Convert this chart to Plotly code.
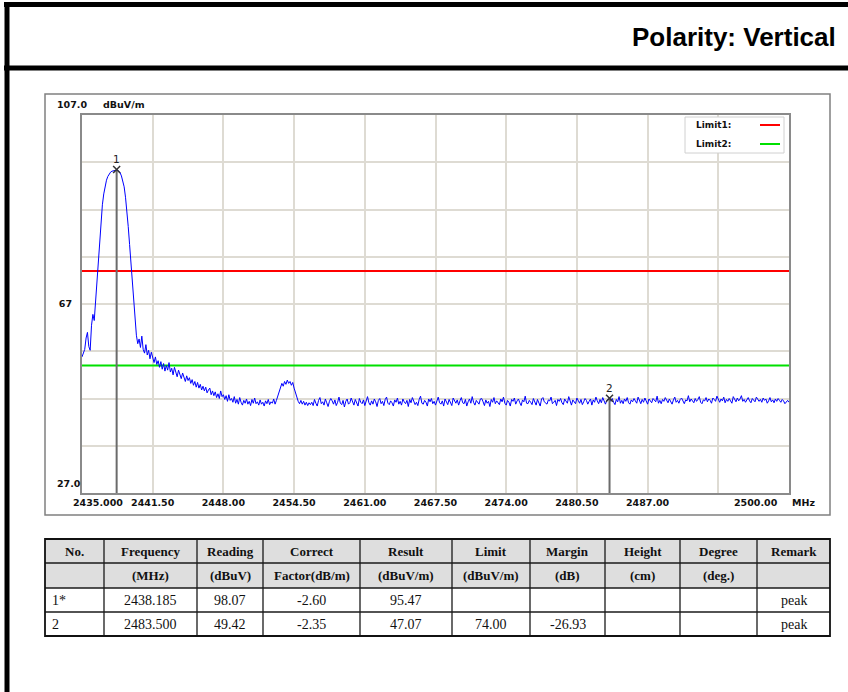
import numpy as np
import plotly.graph_objects as go

W, H = 848, 692

# ---------------- data ----------------
f_start, f_stop = 2435.0, 2500.0
# trace level (dBuV/m), one value every 0.125 MHz from 2435 to 2500 MHz
levels = [
    # 2435.000 - 2442.000 (carrier)
    55.8, 56.6, 57.4, 59.8, 61.0, 58.0, 57.2, 62.5, 64.8, 63.5,
    67.5, 72.0, 77.0, 81.5, 85.0, 88.0, 90.3, 92.0, 93.2, 94.0,
    94.6, 94.9, 95.1, 95.2, 95.3, 95.4, 95.4, 95.1, 94.8, 94.1,
    93.2, 91.8, 89.6, 86.8, 83.4, 79.6, 75.6, 71.6, 67.8, 63.8,
    60.4, 58.6, 59.6, 57.8, 60.2, 57.4, 56.6, 58.4, 56.2, 57.2,
    55.4, 56.8, 55.6, 54.6, 55.8, 54.2, 55.0,
    # 2442.125 - 2456.000
    53.6, 54.8, 53.2, 54.4, 52.8, 54.0, 53.0, 54.6,
    52.6, 53.4, 52.0, 53.6, 52.4, 51.6, 53.0, 52.2,
    51.2, 52.4, 51.6, 50.6, 51.8, 50.8, 51.4, 50.2,
    51.0, 49.8, 50.6, 49.4, 50.4, 49.2, 50.0, 48.8,
    49.6, 48.6, 49.4, 48.2, 48.8, 49.2, 47.8, 48.6,
    47.6, 48.4, 47.2, 48.0, 47.0, 48.6, 47.4, 47.8,
    46.8, 47.6, 46.4, 47.8, 46.6, 47.0, 46.2, 47.4,
    46.0, 46.8, 45.8, 47.2, 46.2, 45.6, 46.6, 46.0,
    46.9, 45.8, 46.4, 45.5, 46.8, 46.0, 47.1, 45.9,
    46.3, 45.6, 46.7, 45.8, 46.2, 45.4, 46.5, 45.9,
    46.8, 45.7, 46.3, 46.0, 46.9, 45.8, 46.6, 47.4,
    48.4, 49.4, 50.2, 49.6, 50.6, 50.0, 50.9, 50.2,
    50.6, 49.8, 50.4, 49.2, 48.2, 47.0, 46.4, 45.9,
    46.6, 45.8, 46.4, 45.6, 46.2, 45.5, 46.1, 45.7,
    # 2456.125 - 2500.000 (noise floor)
    46.2, 45.5, 46.8, 46.0, 45.4, 46.6, 47.2, 45.9, 46.3, 45.6,
    46.9, 46.1, 45.3, 46.4, 47.0, 46.5, 45.8, 46.7, 45.5, 46.2,
    47.3, 46.0, 45.7, 46.6, 45.2, 46.4, 46.9, 45.8, 46.1, 47.1,
    46.3, 45.6, 46.8, 46.0, 45.4, 47.0, 46.2, 45.9, 46.7, 45.5,
    46.4, 47.4, 46.1, 45.6, 46.5, 45.8, 46.9, 46.3, 45.3, 46.6,
    47.0, 45.9, 46.4, 45.5, 46.8, 47.3, 46.0, 45.7, 46.5, 46.1,
    45.4, 46.7, 46.2, 47.1, 45.8, 46.4, 45.6, 46.9, 46.3, 45.9,
    46.6, 45.3, 46.8, 46.1, 47.2, 46.5, 45.7, 46.2, 45.5, 46.8,
    47.5, 46.0, 45.8, 46.6, 46.2, 45.4, 46.9, 46.3, 47.0, 45.9,
    46.4, 45.6, 46.7, 47.3, 46.1, 45.8, 46.5, 45.4, 46.9, 46.2,
    45.7, 46.8, 46.3, 45.5, 47.1, 46.4, 46.0, 46.7, 45.6, 46.5,
    47.2, 46.1, 45.9, 46.8, 45.4, 46.3, 46.9, 46.0, 47.4, 46.2,
    45.6, 46.6, 46.1, 45.8, 46.9, 47.0, 46.3, 45.5, 46.7, 46.0,
    46.4, 45.3, 46.8, 46.2, 47.2, 45.9, 46.5, 46.1, 45.7, 46.9,
    46.3, 47.3, 46.0, 45.6, 46.6, 46.2, 45.4, 46.8, 46.4, 47.1,
    45.8, 46.5, 46.9, 46.1, 45.5, 46.7, 46.3, 47.5, 46.0, 45.9,
    46.6, 46.2, 45.7, 47.0, 46.4, 45.6, 46.8, 46.1, 45.4, 46.9,
    47.2, 46.3, 46.0, 45.8, 46.7, 46.5, 47.3, 45.9, 46.2, 46.6,
    45.5, 46.8, 46.4, 47.0, 46.1, 45.7, 46.9, 46.3, 46.0, 47.4,
    46.2, 45.6, 46.7, 46.4, 45.9, 47.1, 46.5, 46.0, 46.8, 45.7,
    46.3, 47.0, 46.6, 45.8, 46.4, 46.9, 45.6, 46.7, 46.2, 47.3,
    46.5, 45.9, 46.8, 46.1, 47.2, 46.4, 45.8, 46.6, 46.9, 47.1,
    46.4, 47.0, 46.2, 45.7, 46.8, 46.3, 47.4, 46.0, 46.6, 45.9,
    46.9, 46.4, 47.2, 46.1, 45.8, 46.7, 46.3, 47.0, 46.5, 46.0,
    47.3, 46.6, 45.9, 46.8, 46.2, 47.1, 46.4, 45.8, 46.9, 46.5,
    46.1, 47.0, 46.7, 46.3, 47.5, 46.0, 46.6, 45.9, 46.8, 46.4,
    47.2, 46.5, 46.1, 46.9, 46.3, 45.8, 46.7, 47.3, 46.2, 46.6,
    46.0, 46.8, 47.1, 46.4, 45.9, 46.7, 46.5, 47.6, 46.3, 46.9,
    46.6, 46.1, 47.0, 46.4, 46.8, 47.4, 46.2, 45.9, 46.7, 46.5,
    47.2, 46.3, 46.9, 46.6, 46.0, 47.1, 46.8, 46.4, 47.5, 46.7,
    46.2, 46.9, 46.5, 47.3, 46.1, 46.8, 46.4, 47.0, 46.6, 46.0,
    47.4, 46.7, 46.3, 47.1, 46.5, 46.9, 47.6, 46.4, 46.8, 46.2,
    46.9, 47.2, 46.5, 46.1, 47.0, 46.6, 46.3, 47.3, 46.7, 46.4,
    46.8, 46.2, 47.1, 46.6, 46.9, 46.0, 46.5, 47.2, 46.3, 46.7,
    46.1, 46.9, 46.4, 47.0, 46.6, 46.2, 46.8, 46.5, 45.9, 46.3,
    46.6, 46.2,
]
freqs = np.linspace(f_start, f_stop, len(levels))

y_min, y_max = 27.0, 107.0
limit1 = 74.0
limit2 = 54.0

marker_no = ["1", "2"]
marker_freq = [2438.185, 2483.500]
marker_level = [95.47, 47.07]

x_ticks = [2441.50, 2448.00, 2454.50, 2461.00, 2467.50, 2474.00, 2480.50, 2487.00, 2493.50]
x_labels = ["2441.50", "2448.00", "2454.50", "2461.00", "2467.50", "2474.00", "2480.50", "2487.00", ""]
y_ticks = [37, 47, 57, 67, 77, 87, 97]
y_labels = ["", "", "", "67", "", "", ""]

table_head1 = ["No.", "Frequency", "Reading", "Correct", "Result", "Limit", "Margin", "Height", "Degree", "Remark"]
table_head2 = ["", "(MHz)", "(dBuV)", "Factor(dB/m)", "(dBuV/m)", "(dBuV/m)", "(dB)", "(cm)", "(deg.)", ""]
table_row1 = ["1*", "2438.185", "98.07", "-2.60", "95.47", "", "", "", "", "peak"]
table_row2 = ["2", "2483.500", "49.42", "-2.35", "47.07", "74.00", "-26.93", "", "", "peak"]

# ---------------- helpers ----------------
def px(x):
    return x / W

def py(y):
    return 1 - y / H

PL, PR, PT, PB = 82, 789, 115, 493
SANS = "DejaVu Sans"
SERIF = "Liberation Serif"

fig = go.Figure()

# limit lines
fig.add_trace(go.Scatter(x=[f_start, f_stop], y=[limit1, limit1], mode="lines",
                         line=dict(color="#ff0000", width=2), hoverinfo="skip"))
fig.add_trace(go.Scatter(x=[f_start, f_stop], y=[limit2, limit2], mode="lines",
                         line=dict(color="#00e000", width=2), hoverinfo="skip"))
# spectrum
fig.add_trace(go.Scatter(x=freqs, y=levels, mode="lines",
                         line=dict(color="#0000ff", width=1)))
# marker lines
for f, lv in zip(marker_freq, marker_level):
    fig.add_trace(go.Scatter(x=[f, f], y=[lv, y_min], mode="lines",
                             line=dict(color="#6b6b6b", width=2), hoverinfo="skip"))
# marker symbols
fig.add_trace(go.Scatter(x=marker_freq, y=marker_level, mode="markers",
                         marker=dict(symbol="x-thin", size=7,
                                     line=dict(width=1.5, color="#333333"))))

shapes = []
annotations = []

# page borders
shapes.append(dict(type="line", xref="paper", yref="paper", x0=px(4), x1=px(848),
                   y0=py(4.5), y1=py(4.5), line=dict(color="black", width=5)))
shapes.append(dict(type="line", xref="paper", yref="paper", x0=px(4), x1=px(848),
                   y0=py(68), y1=py(68), line=dict(color="black", width=5)))
shapes.append(dict(type="line", xref="paper", yref="paper", x0=px(7), x1=px(7),
                   y0=py(2), y1=py(692), line=dict(color="black", width=5)))

annotations.append(dict(text="<b>Polarity: Vertical</b>", xref="paper", yref="paper",
                        x=px(838), y=py(37), xanchor="right", yanchor="middle",
                        showarrow=False, font=dict(family="Liberation Sans", size=26, color="black")))

# chart outer box
shapes.append(dict(type="rect", xref="paper", yref="paper", x0=px(45), x1=px(830),
                   y0=py(515), y1=py(94), line=dict(color="#808080", width=1.5)))

# axis-side labels
lab_font = dict(family=SANS, size=9.5, color="#111111")
annotations.append(dict(text="<b>107.0</b>", xref="paper", yref="paper", x=px(55), y=py(104),
                        xanchor="left", yanchor="middle", showarrow=False, font=lab_font))
annotations.append(dict(text="<b>dBuV/m</b>", xref="paper", yref="paper", x=px(101), y=py(104),
                        xanchor="left", yanchor="middle", showarrow=False, font=lab_font))
annotations.append(dict(text="<b>27.0</b>", xref="paper", yref="paper", x=px(55), y=py(483),
                        xanchor="left", yanchor="middle", showarrow=False, font=lab_font))
annotations.append(dict(text="<b>2435.000</b>", xref="x", yref="paper", x=f_start, y=py(502),
                        xanchor="left", yanchor="middle", xshift=-11, showarrow=False, font=lab_font))
annotations.append(dict(text="<b>2500.00</b>", xref="x", yref="paper", x=f_stop, y=py(502),
                        xanchor="right", yanchor="middle", xshift=-9, showarrow=False, font=lab_font))
annotations.append(dict(text="<b>MHz</b>", xref="x", yref="paper", x=f_stop, y=py(502),
                        xanchor="left", yanchor="middle", xshift=1, showarrow=False, font=lab_font))

# marker labels
for n, f, lv in zip(marker_no, marker_freq, marker_level):
    annotations.append(dict(text=n, xref="x", yref="y", x=f, y=lv, yshift=10,
                            xanchor="center", yanchor="middle", showarrow=False,
                            font=dict(family=SANS, size=10.5, color="#222222")))

# legend
shapes.append(dict(type="rect", xref="paper", yref="paper", x0=px(685), x1=px(784),
                   y0=py(153), y1=py(117), line=dict(color="#d0d0d0", width=1),
                   fillcolor="white"))
for name, col, yy in [("Limit1:", "#ff0000", 125), ("Limit2:", "#00e000", 144)]:
    annotations.append(dict(text="<b>" + name + "</b>", xref="paper", yref="paper",
                            x=px(694), y=py(yy), xanchor="left", yanchor="middle",
                            showarrow=False, font=dict(family=SANS, size=9, color="#111111")))
    shapes.append(dict(type="line", xref="paper", yref="paper", x0=px(760), x1=px(780),
                       y0=py(yy), y1=py(yy), line=dict(color=col, width=2)))

# table
cols = [45, 104, 197, 263, 360, 452, 530, 605, 680, 757, 830]
rows = [539, 563, 588, 612, 636]
shapes.append(dict(type="rect", xref="paper", yref="paper", x0=px(cols[0]), x1=px(cols[-1]),
                   y0=py(rows[2]), y1=py(rows[0]), line=dict(width=0), fillcolor="#dedede",
                   layer="below"))
for r in rows[1:-1]:
    shapes.append(dict(type="line", xref="paper", yref="paper", x0=px(cols[0]), x1=px(cols[-1]),
                       y0=py(r), y1=py(r), line=dict(color="#1a1a1a", width=1.3)))
for c in cols[1:-1]:
    shapes.append(dict(type="line", xref="paper", yref="paper", x0=px(c), x1=px(c),
                       y0=py(rows[0]), y1=py(rows[-1]), line=dict(color="#1a1a1a", width=1.3)))
shapes.append(dict(type="rect", xref="paper", yref="paper", x0=px(cols[0]), x1=px(cols[-1]),
                   y0=py(rows[-1]), y1=py(rows[0]), line=dict(color="#111111", width=1.8)))

for ri, (row, bold) in enumerate([(table_head1, True), (table_head2, True),
                                  (table_row1, False), (table_row2, False)]):
    yc = (rows[ri] + rows[ri + 1]) / 2
    for ci, txt in enumerate(row):
        if not txt:
            continue
        if ci == 0 and not bold:
            xx, anc = cols[0] + 5, "left"
        else:
            xx, anc = (cols[ci] + cols[ci + 1]) / 2, "center"
        annotations.append(dict(text=("<b>%s</b>" % txt) if bold else txt,
                                xref="paper", yref="paper", x=px(xx), y=py(yc),
                                xanchor=anc, yanchor="middle", showarrow=False,
                                font=dict(family=SERIF, size=13 if bold else 14, color="#111111")))

fig.update_layout(
    width=W, height=H, margin=dict(l=0, r=0, t=0, b=0),
    paper_bgcolor="white", plot_bgcolor="white", showlegend=False,
    shapes=shapes, annotations=annotations,
    xaxis=dict(domain=[px(PL), px(PR)], range=[f_start, f_stop],
               tickvals=x_ticks, ticktext=["<b>%s</b>" % t if t else "" for t in x_labels],
               showgrid=True, gridcolor="#dedbd3", gridwidth=1.5, zeroline=False,
               showline=True, mirror=True, linecolor="#8a8a8a", linewidth=2,
               ticks="", tickfont=lab_font, fixedrange=True),
    yaxis=dict(domain=[py(PB), py(PT)], range=[y_min, y_max],
               tickvals=y_ticks, ticktext=["<b>%s</b>" % t if t else "" for t in y_labels],
               showgrid=True, gridcolor="#dedbd3", gridwidth=1.5, zeroline=False,
               showline=True, mirror=True, linecolor="#8a8a8a", linewidth=2,
               ticks="", tickfont=lab_font, ticklabelstandoff=6, fixedrange=True),
)

fig.write_html("out.html", config={"displayModeBar": False},
               post_script="document.body.style.margin='0';document.body.style.overflow='hidden';")
